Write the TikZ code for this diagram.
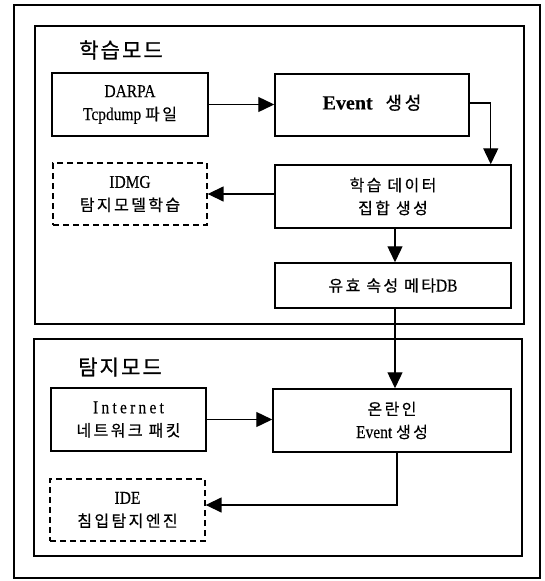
\documentclass[tikz,border=0pt]{standalone}
\usepackage{fontspec}
\setmainfont[FakeStretch=0.86,FakeBold=0.3]{Liberation Serif}
\newfontfamily\krfont[LetterSpace=15,FakeBold=0.6]{Noto Sans CJK KR}
\newfontfamily\krtitle[LetterSpace=10,FakeBold=0.8]{Noto Sans CJK KR}
\newfontfamily\lspfont[LetterSpace=18,FakeStretch=0.86,FakeBold=0.3]{Liberation Serif}
\newfontfamily\evfont[FakeBold=0.3]{Liberation Serif Bold}
\newcommand\kor[1]{{\krfont\fontsize{16}{23}\selectfont #1}}
\usetikzlibrary{arrows.meta,calc}
\tikzset{
  blk/.style={draw, line width=1.5pt, inner sep=0pt, align=center, font=\fontsize{18}{23}\selectfont},
  dblk/.style={blk, dash pattern=on 6pt off 4pt, line width=1.3pt},
  frame/.style={draw, line width=1.6pt},
  arr/.style={line width=1.4pt, -{Triangle[length=16pt,width=15pt]}},
  ttl/.style={inner sep=0pt, font=\krtitle\fontsize{21}{24}\selectfont}
}
\begin{document}
\begin{tikzpicture}[x=1pt,y=-1pt]
\useasboundingbox (0,0) rectangle (545,581);
% frames
\draw[frame] (14,5) rectangle (540,578);
\draw[frame] (35,26) rectangle (524,324);
\draw[frame] (34,339) rectangle (522,556);
% titles
\node[ttl] (t1) at (121,50) {학습모드};
\node[ttl] (t2) at (120,367) {탐지모드};
% learning mode
\node[blk, minimum width=156pt, minimum height=63pt] (darpa) at (130,104.5) {DARPA\\Tcpdump\ \kor{파일}};
\node[blk, minimum width=194pt, minimum height=62pt] (event) at (372,105) {\raisebox{6pt}{\fontsize{20}{22}\selectfont{\evfont Event}\ \ \ {\krfont\fontsize{18}{20}\selectfont 생성}}};
\node[blk, minimum width=236pt, minimum height=63pt] (learn) at (393,196.5) {\kor{학습 데이터}\\\kor{집합 생성}};
\node[dblk, minimum width=154pt, minimum height=62pt] (idmg) at (130,194) {IDMG\\\kor{탐지모델학습}};
\node[blk, minimum width=236pt, minimum height=45pt] (meta) at (393,285.5) {\kor{유효 속성 메타}DB};
% detection mode
\node[blk, minimum width=155pt, minimum height=63pt] (inet) at (128.5,419.5) {{\lspfont Internet}\\\kor{네트워크 패킷}};
\node[blk, minimum width=238pt, minimum height=63pt] (online) at (392,420.5) {\kor{온란인}\\Event\ \kor{생성}};
\node[dblk, minimum width=155pt, minimum height=62pt] (ide) at (127.5,510) {IDE\\\kor{침입탐지엔진}};
% arrows
\draw[arr] (darpa.east) -- (darpa.east -| event.west);
\draw[arr] ([yshift=2pt]event.east) -| ([xshift=-21pt]learn.north east);
\draw[arr] (learn.west |- idmg.east) -- (idmg.east);
\draw[arr] ([xshift=2pt]learn.south) -- ([xshift=2pt]learn.south |- meta.north);
\draw[arr] ([xshift=2pt]meta.south) -- ([xshift=2pt]meta.south |- online.north);
\draw[arr] (inet.east) -- (inet.east -| online.west);
\draw[arr] ([xshift=5pt]online.south) |- ([yshift=5pt]ide.east);
\end{tikzpicture}
\end{document}
